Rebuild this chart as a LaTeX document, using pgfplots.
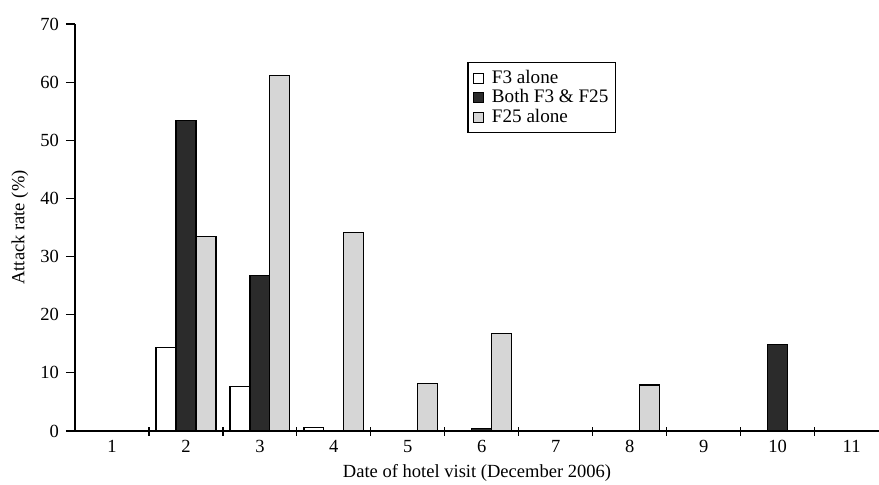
\documentclass[border=0pt]{standalone}
\usepackage{pgfplots}
\pgfplotsset{compat=1.18}
\usepackage{fontspec}
\setmainfont{Liberation Serif}
\definecolor{darkbar}{HTML}{2B2B2B}
\definecolor{lightbar}{HTML}{D6D6D6}
\begin{document}
\begin{tikzpicture}
\begin{axis}[
  at={(0,0)}, anchor=origin,
  scale only axis,
  width=402bp, height=203.5bp,
  xmin=0.5, xmax=11.37,
  ymin=0, ymax=70,
  axis x line*=bottom, axis y line*=left,
  axis line style={line width=0.6pt, -},
  ytick={0,10,...,70},
  xtick={1.5,2.5,...,10.5},
  xticklabels={},
  xtick align=center,
  ytick align=outside,
  ytick pos=left,
  major tick length=4.5bp,
  xtick style={yshift=2.25bp},
  extra x ticks={1,2,...,11},
  extra x tick style={major tick length=0pt},
  tick style={line width=0.6pt, black},
  /pgf/number format/assume math mode=true,
  ticklabel style={font=\fontsize{9.3}{11}\selectfont},
  xticklabel style={yshift=-1bp},
  xlabel={Date of hotel visit (December 2006)},
  ylabel={Attack rate (\%)},
  every axis x label/.style={at={(axis description cs:0.5,0)}, anchor=center, yshift=-21bp, font=\fontsize{9.3}{11}\selectfont},
  every axis y label/.style={at={(axis description cs:0,0.5)}, rotate=90, anchor=center, yshift=27.5bp, font=\fontsize{9.3}{11}\selectfont},
  ybar, bar width=0.27,
  legend style={at={(0.488,0.907)}, anchor=north west, draw=black, line width=0.6pt,
    font=\fontsize{9.6}{11}\selectfont, inner xsep=2bp, inner ysep=3bp,
    legend cell align=left, row sep=0bp,
    nodes={inner xsep=1.5bp, inner ysep=0.8bp}},
  legend image code/.code={\draw[#1, line width=0.5pt] (1bp,-2.5bp) rectangle (6bp,2.5bp); \path[draw=none, fill=none] (0bp,0bp) -- (8.5bp,0bp);},
]
\addplot[draw=black, fill=white, line width=0.6pt, bar shift=-0.27] coordinates {(2,14.4) (3,7.6) (4,0.6)};
\addplot[draw=black, fill=darkbar, line width=0.6pt, bar shift=0] coordinates {(2,53.4) (3,26.7) (6,0.4) (10,14.9)};
\addplot[draw=black, fill=lightbar, line width=0.6pt, bar shift=0.27] coordinates {(2,33.4) (3,61.2) (4,34.1) (5,8.2) (6,16.8) (8,7.9)};
\legend{F3 alone, Both F3 \& F25, F25 alone}
\end{axis}
\pgfresetboundingbox
\path (-37.5bp,-27bp) rectangle (402bp,215.5bp);
\end{tikzpicture}
\end{document}
